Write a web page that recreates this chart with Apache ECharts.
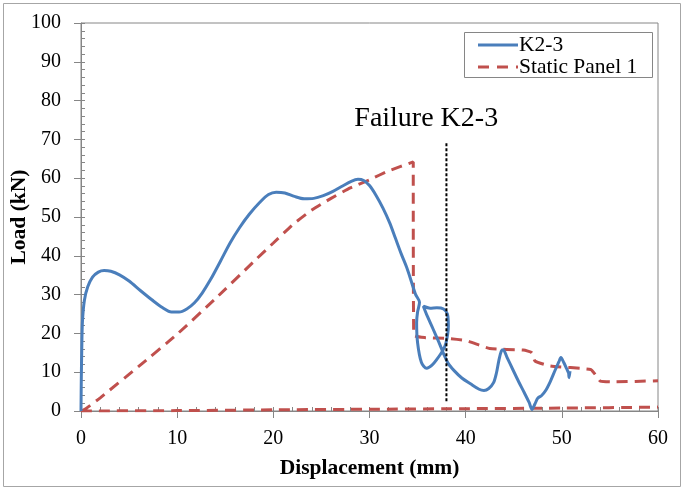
<!DOCTYPE html>
<html><head><meta charset="utf-8">
<script src="https://cdn.jsdelivr.net/npm/echarts@6/dist/echarts.min.js"></script>
<style>html,body{margin:0;padding:0;background:#fff}#c{width:683px;height:489px}</style>
</head><body><div id="c"></div>
<script>
// K2-3 (displacement mm, load kN)
var k23X = [0,0.03,0.08,0.15,0.35,0.7,1.2,1.8,2.4,3.1,4,5,6.2,7.4,8.5,9.4,10.2,11,11.8,12.6,13.5,14.5,15.5,16.5,17.5,18.6,19.5,20.3,21.2,22.2,23.2,24.2,25.2,26.2,27.2,28.1,28.8,29.4,30,30.7,31.4,32.1,32.7,33.3,33.9,34.4,34.8,35.2,
  35.0,34.9,35.0,35.4,35.95,36.5,37.0,37.6,37.95,38.2,38.1,37.7,37.0,36.3,35.6,
  36.0,36.6,37.2,37.7,38.2,38.8,39.6,40.5,41.4,41.9,42.4,42.9,43.2,43.45,43.7,43.9,44.3,44.9,45.5,46.1,46.6,46.9,47.2,47.5,47.9,48.3,48.8,49.3,49.7,49.9,50.2,50.5,50.7,50.75,50.85];
var k23Y = [0,8,16,23,28.5,32,34.5,35.8,36.2,36,35.1,33.5,31,28.6,26.6,25.5,25.5,26.3,27.9,30.4,34,38.6,43.3,47.3,50.7,53.8,55.8,56.4,56.2,55.3,54.7,54.8,55.5,56.6,58,59.2,59.7,59.4,58.1,55.5,52.3,48.5,44.5,40.5,36.8,33,30,28,
  25.5,22.8,17.6,12.5,11,11.8,13.3,15.5,17.5,21.9,25,26.3,26.6,26.5,27.0,
  24.5,21.2,17.8,14.8,12.2,10.4,8.5,7,5.6,5.3,5.8,7.3,9.8,13,15.4,15.8,13.8,10.7,7.6,4.7,2.2,0.4,1.8,3.3,4,5.2,7.6,10.5,12.7,13.8,12.5,10.9,9.8,8.6,10.3];
// Static Panel 1 loading branch
var staticX = [0,0.5,2,6,10,14,18,20,22,24,26,28,30,32,34.55,34.55,34.6,35.8,38,40.1,42.5,46,46.9,47.2,48.8,53,53.6,54,55.4,60];
var staticY = [0,0.6,3.4,11.5,19.8,29,38.6,43.3,48,51.8,54.8,57.5,59.6,61.9,64.2,60,19.6,18.9,18.7,18.1,16.1,15.7,15,12.9,11.6,10.7,9,7.7,7.5,7.8];
// Static Panel 1 return branch (near zero)
var staticRetX = [0,10,20,30,40,50,60];
var staticRetY = [0,0.1,0.3,0.45,0.6,0.75,1.0];
// Failure marker
var failureX = [38,38];
var failureY = [69,2.5];
var failureLabel = 'Failure K2-3';
var failureLabelPos = [35.9,75.3];

function pairs(xs, ys){ return xs.map(function(x,i){ return [x, ys[i]]; }); }
var staticData = pairs(staticX, staticY).concat(['-']).concat(pairs(staticRetX, staticRetY));

var FONT = "'Liberation Serif','Times New Roman',serif";
var AX = '#868686';
var BLUE = '#4A7EBB', RED = '#C0504D';
var chart = echarts.init(document.getElementById('c'));
chart.setOption({
  animation: false,
  backgroundColor: '#fff',
  textStyle: {fontFamily: FONT},
  grid: {left: 81, right: 25, top: 23, bottom: 78, show: true, borderColor: AX, borderWidth: 1, containLabel: false, outerBoundsMode: 'none'},
  legend: {
    data: [
      {name: 'K2-3', icon: 'path://M0,0h40v3h-40z', itemStyle: {color: BLUE}},
      {name: 'Static Panel 1', icon: 'path://M0,0h11v3h-11z M19,0h11v3h-11z M38,0h2v3h-2z', itemStyle: {color: RED}}
    ],
    orient: 'vertical', left: 478, top: 34, padding: 0,
    itemWidth: 40, itemHeight: 3, itemGap: 0,
    textStyle: {fontFamily: FONT, fontSize: 21.5, color: '#000', padding: [0,0,0,-4]}
  },
  graphic: [
    {type: 'rect', shape: {x: 3.5, y: 3.5, width: 677, height: 483}, style: {fill: 'none', stroke: '#A6A6A6', lineWidth: 1}, silent: true, z: -1},
    {type: 'rect', shape: {x: 464.5, y: 32.5, width: 188, height: 45}, style: {fill: '#fff', stroke: AX, lineWidth: 1}, silent: true, z: 1}
  ],
  xAxis: [{
    type: 'value', min: 0, max: 60, interval: 10,
    name: 'Displacement (mm)', nameLocation: 'middle', nameGap: 46, nameMoveOverlap: false,
    nameTextStyle: {fontFamily: FONT, fontSize: 21.5, fontWeight: 'bold', color: '#000'},
    axisLine: {lineStyle: {color: AX}},
    axisTick: {length: 7, lineStyle: {color: AX}},
    axisLabel: {fontFamily: FONT, fontSize: 20, color: '#000', margin: 18},
    splitLine: {show: false}
  }, {
    type: 'value', min: 0, max: 60, interval: 10, position: 'bottom',
    axisLine: {show: false}, axisLabel: {show: false},
    axisTick: {inside: true, length: 4, lineStyle: {color: AX}},
    minorTick: {show: true, splitNumber: 5, length: 4, lineStyle: {color: AX}},
    splitLine: {show: false}
  }],
  yAxis: [{
    type: 'value', min: 0, max: 100, interval: 10,
    name: 'Load (kN)', nameLocation: 'middle', nameGap: 51, nameMoveOverlap: false,
    nameTextStyle: {fontFamily: FONT, fontSize: 21.5, fontWeight: 'bold', color: '#000'},
    axisLine: {show: true, lineStyle: {color: AX}},
    axisTick: {show: true, length: 7, lineStyle: {color: AX}},
    axisLabel: {fontFamily: FONT, fontSize: 20, color: '#000', margin: 20},
    splitLine: {show: false}
  }, {
    type: 'value', min: 0, max: 100, interval: 10, position: 'left',
    axisLine: {show: false}, axisLabel: {show: false},
    axisTick: {show: true, inside: true, length: 4, lineStyle: {color: AX}},
    minorTick: {show: true, splitNumber: 5, length: 4, lineStyle: {color: AX}},
    splitLine: {show: false}
  }],
  series: [{
    name: 'K2-3', type: 'line', data: pairs(k23X, k23Y), smooth: 0.3, symbol: 'none',
    lineStyle: {color: BLUE, width: 3}, itemStyle: {color: BLUE}, z: 3
  }, {
    name: 'Static Panel 1', type: 'line', data: staticData, smooth: 0.15, symbol: 'none', connectNulls: false,
    lineStyle: {color: RED, width: 3, type: [11,7]}, itemStyle: {color: RED}, z: 2
  }, {
    name: 'failure', type: 'line', data: pairs(failureX, failureY), symbol: 'none', silent: true,
    lineStyle: {color: '#000', width: 2, type: [3,2]}, z: 4,
    markPoint: {
      symbol: 'circle', symbolSize: 0, silent: true,
      data: [{coord: failureLabelPos, value: failureLabel}],
      label: {show: true, position: 'inside', formatter: failureLabel, fontFamily: FONT, fontSize: 28, color: '#000'}
    }
  }]
});
</script></body></html>
